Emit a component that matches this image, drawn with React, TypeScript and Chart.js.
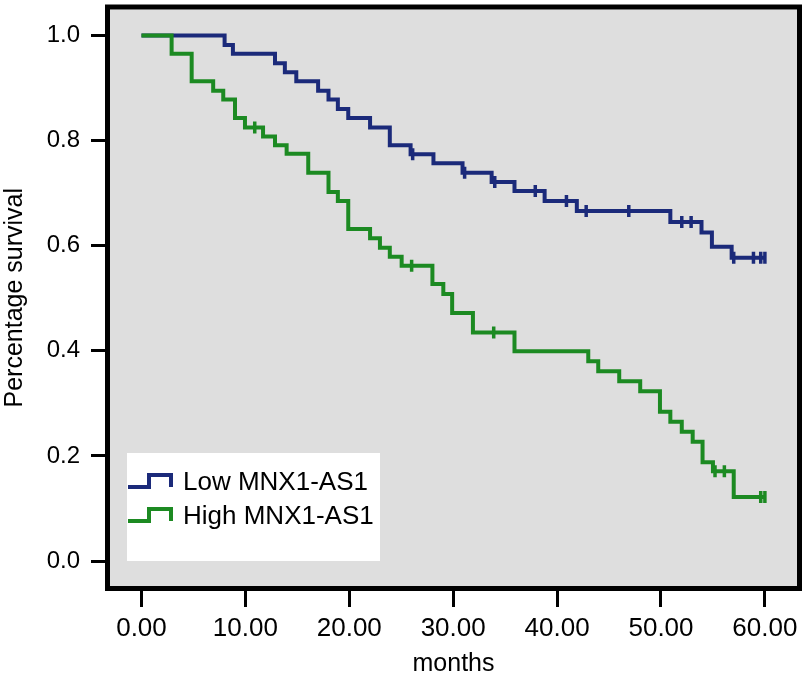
import React, { useEffect, useRef } from "react";
import { Chart, registerables } from "chart.js";

Chart.register(...registerables);

// Kaplan-Meier step data (time in months, survival after the drop)
const lowTimes = [0, 8.0, 8.8, 12.85, 13.8, 14.9, 17.0, 18.0, 18.9, 19.9, 22.0, 23.9, 25.9, 28.1, 30.9, 33.7, 35.9, 38.8, 41.9, 50.9, 53.9, 54.9, 56.8, 60];
const lowSurv = [1.0, 0.982, 0.965, 0.947, 0.93, 0.913, 0.895, 0.878, 0.86, 0.843, 0.825, 0.791, 0.774, 0.757, 0.739, 0.721, 0.704, 0.685, 0.666, 0.645, 0.625, 0.598, 0.577, 0.577];
const lowCensor = [26.1, 31.1, 34.0, 37.9, 40.9, 42.8, 46.9, 52.0, 52.9, 57.0, 58.9, 59.6, 60.0];

const highTimes = [0, 2.9, 4.83, 6.9, 7.87, 9.0, 9.96, 11.7, 12.85, 13.97, 16.05, 18.0, 18.9, 19.9, 22.0, 22.95, 23.9, 25.04, 28.0, 29.05, 29.9, 31.9, 35.9, 43.0, 43.96, 45.98, 48.0, 49.9, 50.9, 52.0, 53.05, 54.0, 55.0, 57.0, 60];
const highSurv = [1.0, 0.965, 0.913, 0.895, 0.878, 0.843, 0.825, 0.808, 0.791, 0.775, 0.739, 0.702, 0.685, 0.632, 0.614, 0.596, 0.579, 0.562, 0.527, 0.508, 0.472, 0.435, 0.399, 0.38, 0.361, 0.342, 0.323, 0.284, 0.265, 0.246, 0.227, 0.188, 0.171, 0.122, 0.122];
const highCensor = [10.9, 26.0, 33.9, 55.2, 56.1, 59.6, 60.0];

const seriesLabels = ["Low MNX1-AS1", "High MNX1-AS1"];
const seriesColors = ["#1b2a7a", "#1c8a22"];

const xTicks = [0, 10, 20, 30, 40, 50, 60];
const yTicks = [0, 0.2, 0.4, 0.6, 0.8, 1.0];

function survAt(times: number[], surv: number[], t: number) {
  let v = surv[0];
  for (let i = 0; i < times.length; i++) if (times[i] <= t) v = surv[i];
  return v;
}

const framePlugin = {
  id: "frameAndLegend",
  beforeDraw(chart: any) {
    const { ctx, chartArea: a, width, height } = chart;
    ctx.save();
    ctx.fillStyle = "#ffffff";
    ctx.fillRect(0, 0, width, height);
    ctx.fillStyle = "#dedede";
    ctx.fillRect(a.left, a.top, a.right - a.left, a.bottom - a.top);
    ctx.restore();
  },
  afterDraw(chart: any) {
    const { ctx, chartArea: a } = chart;
    ctx.save();
    // legend box
    ctx.fillStyle = "#ffffff";
    ctx.fillRect(127, 453, 253, 108);
    const rows = [
      { y: 483, label: seriesLabels[0], color: seriesColors[0] },
      { y: 517, label: seriesLabels[1], color: seriesColors[1] },
    ];
    rows.forEach((r) => {
      ctx.strokeStyle = r.color;
      ctx.lineWidth = 4;
      ctx.lineJoin = "miter";
      ctx.beginPath();
      ctx.moveTo(128, r.y + 4);
      ctx.lineTo(149, r.y + 4);
      ctx.lineTo(149, r.y - 8);
      ctx.lineTo(171, r.y - 8);
      ctx.lineTo(171, r.y + 4);
      ctx.stroke();
      ctx.fillStyle = "#000000";
      ctx.font = "26px 'Liberation Sans', Arial, sans-serif";
      ctx.textBaseline = "middle";
      ctx.textAlign = "left";
      ctx.fillText(r.label, 183, r.y);
    });
    // frame
    ctx.strokeStyle = "#000000";
    ctx.lineWidth = 5;
    ctx.strokeRect(a.left - 2.5, a.top - 2.5, a.right - a.left + 5, a.bottom - a.top + 5);
    ctx.restore();
  },
};

export default function App() {
  const ref = useRef<HTMLCanvasElement>(null);
  useEffect(() => {
    if (!ref.current) return;
    const lowLine = lowTimes.map((t, i) => ({ x: t, y: lowSurv[i] }));
    const highLine = highTimes.map((t, i) => ({ x: t, y: highSurv[i] }));
    const lowC = lowCensor.map((t) => ({ x: t, y: survAt(lowTimes, lowSurv, t) }));
    const highC = highCensor.map((t) => ({ x: t, y: survAt(highTimes, highSurv, t) }));
    const censorStyle = {
      showLine: false,
      pointStyle: "line",
      rotation: 90,
      pointRadius: 6,
      pointBorderWidth: 3.5,
      pointHoverRadius: 6,
    };
    const chart = new Chart(ref.current, {
      type: "line",
      data: {
        datasets: [
          { label: seriesLabels[0], data: lowLine, borderColor: seriesColors[0], borderWidth: 4, stepped: "before", pointRadius: 0, fill: false, order: 3 },
          { label: seriesLabels[1], data: highLine, borderColor: seriesColors[1], borderWidth: 4, stepped: "before", pointRadius: 0, fill: false, order: 2 },
          { label: "low-censor", data: lowC, borderColor: seriesColors[0], backgroundColor: seriesColors[0], order: 1, ...censorStyle } as any,
          { label: "high-censor", data: highC, borderColor: seriesColors[1], backgroundColor: seriesColors[1], order: 0, ...censorStyle } as any,
        ],
      },
      options: {
        responsive: false,
        animation: false,
        devicePixelRatio: 1,
        layout: { padding: { top: 8, right: 10, left: 0, bottom: 0 } },
        plugins: { legend: { display: false }, tooltip: { enabled: false } },
        scales: {
          x: {
            type: "linear",
            min: -3.03,
            max: 63.09,
            afterBuildTicks: (s: any) => { s.ticks = xTicks.map((v) => ({ value: v })); },
            afterFit: (s: any) => { s.height = 97; s.paddingLeft = 0; s.paddingRight = 0; },
            ticks: {
              color: "#000",
              font: { family: "'Liberation Sans', Arial, sans-serif", size: 26 },
              padding: 6,
              maxRotation: 0,
              callback: (v: any) => Number(v).toFixed(2),
            },
            grid: { drawOnChartArea: false, drawTicks: true, tickLength: 21, tickColor: "#000", tickWidth: 3 },
            border: { display: false },
            title: {
              display: true,
              text: "months",
              color: "#000",
              font: { family: "'Liberation Sans', Arial, sans-serif", size: 25 },
              padding: { top: 0, bottom: 4 },
            },
          },
          y: {
            type: "linear",
            min: -0.0474,
            max: 1.0494,
            afterBuildTicks: (s: any) => { s.ticks = yTicks.map((v) => ({ value: v })); },
            afterFit: (s: any) => { s.width = 110; s.paddingTop = 0; s.paddingBottom = 0; },
            ticks: {
              color: "#000",
              font: { family: "'Liberation Sans', Arial, sans-serif", size: 24 },
              padding: 11,
              callback: (v: any) => Number(v).toFixed(1),
            },
            grid: { drawOnChartArea: false, drawTicks: true, tickLength: 19, tickColor: "#000", tickWidth: 3 },
            border: { display: false },
            title: {
              display: true,
              text: "Percentage survival",
              color: "#000",
              font: { family: "'Liberation Sans', Arial, sans-serif", size: 25 },
              padding: { top: 0, bottom: 0 },
            },
          },
        },
      },
      plugins: [framePlugin],
    } as any);
    return () => chart.destroy();
  }, []);
  return (
    <div style={{ position: "absolute", left: 0, top: 0 }}>
      <canvas ref={ref} width={807} height={683} />
    </div>
  );
}
